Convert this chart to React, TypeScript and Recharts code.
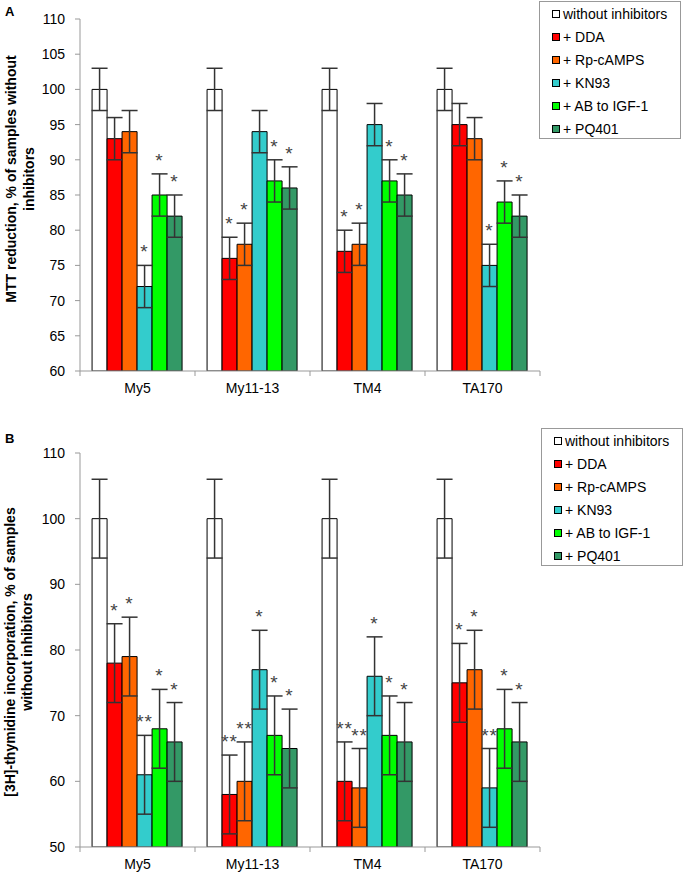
import React from "react";
import { BarChart, Bar, XAxis, YAxis, ErrorBar, Legend, LabelList } from "recharts";

const categories = ["My5", "My11-13", "TM4", "TA170"];
const seriesNames = [
  "without inhibitors",
  "+ DDA",
  "+ Rp-cAMPS",
  "+ KN93",
  "+ AB to IGF-1",
  "+ PQ401",
];
const seriesColors = ["#FFFFFF", "#FF0000", "#FF6600", "#33CCCC", "#00FF00", "#339966"];

// Panel A: MTT reduction
const mttWithout = [100, 100, 100, 100];
const mttDDA = [93, 76, 77, 95];
const mttRp = [94, 78, 78, 93];
const mttKN93 = [72, 94, 95, 75];
const mttAB = [85, 87, 87, 84];
const mttPQ = [82, 86, 85, 82];
const mttErr = [3, 3, 3, 3];
const mttStars = [
  ["", "", "", ""],
  ["", "*", "*", ""],
  ["", "*", "*", ""],
  ["*", "", "", "*"],
  ["*", "*", "*", "*"],
  ["*", "*", "*", "*"],
];
const mttTicks = [60, 65, 70, 75, 80, 85, 90, 95, 100, 105, 110];

// Panel B: [3H]-thymidine incorporation
const thyWithout = [100, 100, 100, 100];
const thyDDA = [78, 58, 60, 75];
const thyRp = [79, 60, 59, 77];
const thyKN93 = [61, 77, 76, 59];
const thyAB = [68, 67, 67, 68];
const thyPQ = [66, 65, 66, 66];
const thyErr = [6, 6, 6, 6];
const thyStars = [
  ["", "", "", ""],
  ["*", "**", "**", "*"],
  ["*", "**", "**", "*"],
  ["**", "*", "*", "**"],
  ["*", "*", "*", "*"],
  ["*", "*", "*", "*"],
];
const thyTicks = [50, 60, 70, 80, 90, 100, 110];

const W = 683;
const AXIS_W = 80;
const RIGHT = 143;
const BAND = (W - AXIS_W - RIGHT) / categories.length;

type PanelProps = {
  letter: string;
  values: number[][];
  errors: number[];
  stars: string[][];
  ticks: number[];
  height: number;
  top: number;
  plotTop: number;
  labelLines: string[];
  labelXs: number[];
  labelY: number;
  legendTop: number;
  legendLeft: number;
};

function buildRows(values: number[][], errors: number[], stars: string[][]) {
  return categories.map((name, c) => {
    const row: Record<string, any> = { name };
    values.forEach((s, i) => {
      row[`v${i}`] = s[c];
      row[`e${i}`] = errors[c];
      row[`t${i}`] = stars[i][c];
    });
    return row;
  });
}

const XTick = (props: any) => {
  const { x, y, payload, index } = props;
  return (
    <g>
      <line x1={x - BAND / 2} x2={x - BAND / 2} y1={y} y2={y + 5} stroke="#999" />
      {index === categories.length - 1 && (
        <line x1={x + BAND / 2} x2={x + BAND / 2} y1={y} y2={y + 5} stroke="#999" />
      )}
      <text x={x} y={y + 22} textAnchor="middle" fontSize={14} fill="#000">
        {payload.value}
      </text>
    </g>
  );
};

function Panel(p: PanelProps) {
  const data = buildRows(p.values, p.errors, p.stars);
  const min = p.ticks[0];
  const max = p.ticks[p.ticks.length - 1];

  const starContent = (i: number) => (props: any) => {
    const vb = props.viewBox || props;
    const { x, y, width, height } = vb;
    const idx = props.index;
    const text = p.stars[i][idx];
    if (!text) return null;
    const val = p.values[i][idx];
    const perUnit = height / (val - min);
    const errTop = y - p.errors[idx] * perUnit;
    return (
      <text
        x={x + width / 2}
        y={errTop - 7}
        textAnchor="middle"
        fontSize={19}
        fill="#444"
        letterSpacing={1}
      >
        {text}
      </text>
    );
  };

  return (
    <div style={{ position: "absolute", left: 0, top: p.top, width: W, height: p.height }}>
      <BarChart
        width={W}
        height={p.height}
        data={data}
        margin={{ top: p.plotTop, right: RIGHT, bottom: 5, left: 0 }}
        barCategoryGap="10.5%"
        barGap={0}
      >
        <XAxis
          dataKey="name"
          height={24}
          stroke="#999"
          tickLine={false}
          tickSize={0}
          tickMargin={0}
          tick={<XTick />}
          interval={0}
        />
        <YAxis
          width={AXIS_W}
          domain={[min, max]}
          ticks={p.ticks}
          allowDataOverflow
          stroke="#999"
          tickSize={5}
          tickMargin={10}
          tick={{ fill: "#000", fontSize: 14 }}
          label={() => (
            <g>
              <text x={5} y={p.letter === "A" ? 16 : 15} fontSize={13} fontWeight="bold" fill="#000">
                {p.letter}
              </text>
              {p.labelLines.map((line, k) => (
                <text
                  key={k}
                  x={p.labelXs[k]}
                  y={p.labelY}
                  transform={`rotate(-90, ${p.labelXs[k]}, ${p.labelY})`}
                  textAnchor="middle"
                  dominantBaseline="central"
                  fontSize={14}
                  fontWeight="bold"
                  fill="#000"
                >
                  {line}
                </text>
              ))}
            </g>
          )}
        />
        <Legend
          layout="vertical"
          align="center"
          verticalAlign="middle"
          wrapperStyle={{ left: p.legendLeft, top: p.legendTop, width: 142, height: 138 }}
          content={() => (
            <div
              style={{
                border: "1px solid #999",
                background: "#fff",
                width: 140,
                height: 136,
                boxSizing: "content-box",
              }}
            >
              {seriesNames.map((n, i) => (
                <div
                  key={n}
                  style={{
                    height: 23,
                    display: "flex",
                    alignItems: "center",
                    paddingLeft: 12,
                    fontSize: 14,
                    color: "#000",
                    whiteSpace: "nowrap",
                  }}
                >
                  <span
                    style={{
                      display: "inline-block",
                      width: 6,
                      height: 6,
                      border: "1px solid #000",
                      background: seriesColors[i],
                      marginRight: 3,
                    }}
                  />
                  {n}
                </div>
              ))}
            </div>
          )}
        />
        {seriesNames.map((n, i) => (
          <Bar
            key={n}
            dataKey={`v${i}`}
            name={n}
            fill={seriesColors[i]}
            stroke="#000"
            strokeWidth={1}
            isAnimationActive={false}
          >
            <ErrorBar dataKey={`e${i}`} width={8} stroke="#333" strokeWidth={1.5} />
            <LabelList dataKey={`t${i}`} content={starContent(i)} />
          </Bar>
        ))}
      </BarChart>
    </div>
  );
}

export default function App() {
  return (
    <div
      style={{
        position: "absolute",
        left: 0,
        top: 0,
        width: W,
        height: 876,
        background: "#fff",
        fontFamily: "'Liberation Sans', Arial, sans-serif",
      }}
    >
      <Panel
        letter="A"
        values={[mttWithout, mttDDA, mttRp, mttKN93, mttAB, mttPQ]}
        errors={mttErr}
        stars={mttStars}
        ticks={mttTicks}
        height={400}
        top={0}
        plotTop={19}
        labelLines={["MTT reduction, % of samples without", "inhibitors"]}
        labelXs={[11, 29]}
        labelY={179}
        legendTop={1}
        legendLeft={539}
      />
      <Panel
        letter="B"
        values={[thyWithout, thyDDA, thyRp, thyKN93, thyAB, thyPQ]}
        errors={thyErr}
        stars={thyStars}
        ticks={thyTicks}
        height={448}
        top={428}
        plotTop={25}
        labelLines={["[3H]-thymidine incorporation, % of samples", "without inhibitors"]}
        labelXs={[10, 27]}
        labelY={224}
        legendTop={0}
        legendLeft={541}
      />
    </div>
  );
}
